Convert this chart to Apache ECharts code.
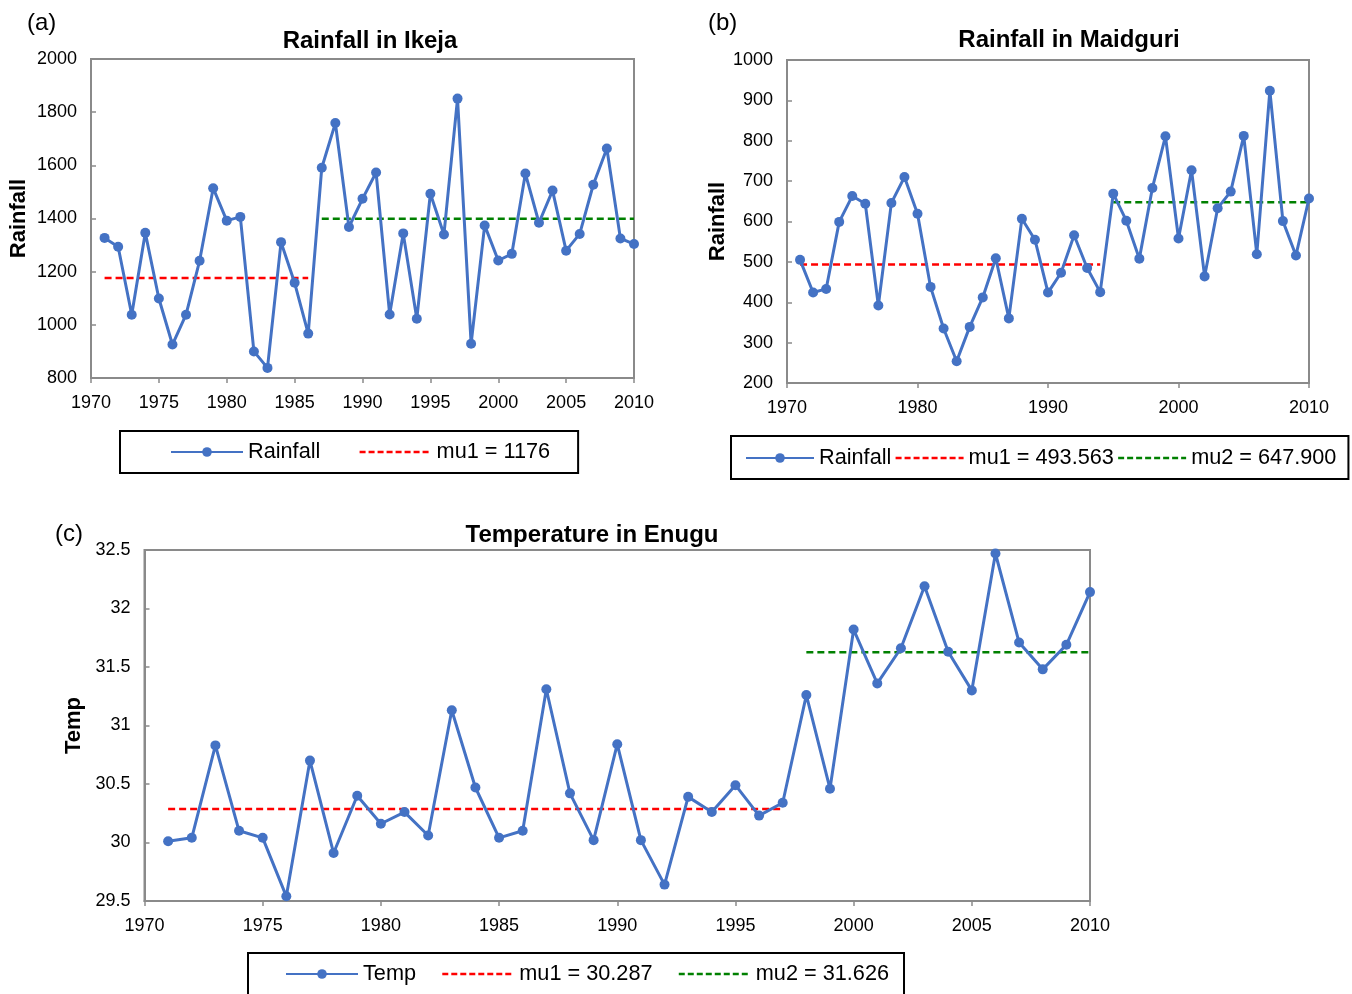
<!DOCTYPE html>
<html>
<head>
<meta charset="utf-8">
<script src="https://cdn.jsdelivr.net/npm/echarts@6/dist/echarts.min.js"></script>
<style>
  html, body { margin: 0; padding: 0; background: #ffffff; }
  #chart { width: 1352px; height: 994px; }
</style>
</head>
<body>
<div id="chart"></div>
<script>
// Observation years shared by all three panels
const years = [1971, 1972, 1973, 1974, 1975, 1976, 1977, 1978, 1979, 1980,
               1981, 1982, 1983, 1984, 1985, 1986, 1987, 1988, 1989, 1990,
               1991, 1992, 1993, 1994, 1995, 1996, 1997, 1998, 1999, 2000,
               2001, 2002, 2003, 2004, 2005, 2006, 2007, 2008, 2009, 2010];

// (a) Annual rainfall, Ikeja
const ikejaRain = [1327, 1294, 1038, 1346, 1099, 926, 1038, 1241, 1514, 1392,
                   1406, 900, 838, 1311, 1158, 967, 1591, 1759, 1368, 1474,
                   1573, 1039, 1344, 1023, 1493, 1340, 1851, 929, 1374, 1242,
                   1267, 1569, 1384, 1505, 1279, 1342, 1527, 1663, 1325, 1304];
const ikejaMu1 = 1176, ikejaMu1Span = [1971, 1986];
const ikejaMu2 = 1399, ikejaMu2Span = [1987, 2010];

// (b) Annual rainfall, Maidguri
const maidRain = [505, 424, 433, 599, 663, 644, 392, 646, 710, 619,
                  438, 335, 254, 339, 412, 509, 360, 607, 555, 424,
                  473, 566, 485, 425, 669, 602, 508, 683, 811, 558,
                  727, 464, 633, 674, 812, 519, 924, 601, 516, 657];
const maidMu1 = 493.563, maidMu1Span = [1971, 1994];
const maidMu2 = 647.900, maidMu2Span = [1995, 2010];

// (c) Mean temperature, Enugu
const enuguTemp = [30.01, 30.04, 30.83, 30.10, 30.04, 29.54, 30.70, 29.91, 30.40, 30.16,
                   30.26, 30.06, 31.13, 30.47, 30.04, 30.10, 31.31, 30.42, 30.02, 30.84,
                   30.02, 29.64, 30.39, 30.26, 30.49, 30.23, 30.34, 31.26, 30.46, 31.82,
                   31.36, 31.66, 32.19, 31.63, 31.30, 32.47, 31.71, 31.48, 31.69, 32.14];
const enuguMu1 = 30.287, enuguMu1Span = [1971, 1997];
const enuguMu2 = 31.626, enuguMu2Span = [1998, 2010];

const FONT = "'Liberation Sans', Arial, Helvetica, sans-serif";
const BLUE = '#4472C4';
const AXIS_GREY = '#8a8a8a';

const pairs = (xs, ys) => xs.map((x, i) => [x, ys[i]]);
const level = (span, v) => [[span[0], v], [span[1], v]];
const plain = v => String(v);

function dataSeries(name, idx, values) {
  return {
    name, type: 'line', xAxisIndex: idx, yAxisIndex: idx,
    data: pairs(years, values),
    symbol: 'circle', symbolSize: 10,
    lineStyle: { color: BLUE, width: 3 },
    itemStyle: { color: BLUE },
    z: 3
  };
}
function meanSeries(name, idx, span, v, color) {
  return {
    name, type: 'line', xAxisIndex: idx, yAxisIndex: idx,
    data: level(span, v), symbol: 'none',
    lineStyle: { color, width: 2.5, type: [7, 4] },
    itemStyle: { color },
    z: 2
  };
}
function xAxisFor(idx, interval) {
  return {
    gridIndex: idx, type: 'value', min: 1970, max: 2010, interval,
    axisLine: { show: true, lineStyle: { color: AXIS_GREY, width: 2 } },
    axisTick: { show: true, length: 5, lineStyle: { color: AXIS_GREY, width: 1.5 } },
    axisLabel: { fontSize: 18, color: '#000', margin: 16, fontFamily: FONT, formatter: plain },
    splitLine: { show: false }
  };
}
function yAxisFor(idx, min, max, interval, name, gap) {
  return {
    gridIndex: idx, type: 'value', min, max, interval,
    name, nameLocation: 'middle', nameGap: gap,
    nameTextStyle: { fontSize: 22, fontWeight: 'bold', color: '#000', fontFamily: FONT },
    axisLine: { show: true, lineStyle: { color: AXIS_GREY, width: 2 } },
    axisTick: { show: true, inside: true, length: 5, lineStyle: { color: AXIS_GREY, width: 1.5 } },
    axisLabel: { fontSize: 18, color: '#000', margin: 14, fontFamily: FONT, formatter: plain },
    splitLine: { show: false }
  };
}
// Dashed-level entries show only the dashed stroke, no marker
const lineOnly = name => ({ name, itemStyle: { opacity: 0 }, lineStyle: { width: 2.5, type: [6, 3] } });
function legendBox(left, top, names, gap, padding, itemWidth) {
  return {
    left, top, orient: 'horizontal', data: names,
    itemWidth, itemHeight: 12, itemGap: gap, padding,
    borderColor: '#000', borderWidth: 2,
    selectedMode: false,
    textStyle: { fontSize: 21.7, color: '#000', fontFamily: FONT }
  };
}
function heading(text, x, top, size, bold) {
  return {
    text, left: x, top, textAlign: bold ? 'center' : 'left', padding: 0,
    textStyle: { fontSize: size, fontWeight: bold ? 'bold' : 'normal', color: '#000', fontFamily: FONT }
  };
}

const chart = echarts.init(document.getElementById('chart'), null, { renderer: 'canvas' });
chart.setOption({
  animation: false,
  backgroundColor: '#ffffff',
  textStyle: { fontFamily: FONT },
  title: [
    heading('(a)', 27, 11, 24, false),
    heading('Rainfall in Ikeja', 370, 29, 24, true),
    heading('(b)', 708, 11, 24, false),
    heading('Rainfall in Maidguri', 1069, 28, 24, true),
    heading('(c)', 55, 522, 24, false),
    heading('Temperature in Enugu', 592, 523, 24, true)
  ],
  grid: [
    { left: 91, top: 59, width: 543, height: 319, show: true, borderColor: AXIS_GREY, borderWidth: 2 },
    { left: 787, top: 60, width: 522, height: 323, show: true, borderColor: AXIS_GREY, borderWidth: 2 },
    { left: 144.5, top: 550, width: 945.5, height: 351, show: true, borderColor: AXIS_GREY, borderWidth: 2 }
  ],
  xAxis: [xAxisFor(0, 5), xAxisFor(1, 10), xAxisFor(2, 5)],
  yAxis: [
    yAxisFor(0, 800, 2000, 200, 'Rainfall', 61),
    yAxisFor(1, 200, 1000, 100, 'Rainfall', 57),
    yAxisFor(2, 29.5, 32.5, 0.5, 'Temp', 60)
  ],
  legend: [
    legendBox(120, 431, ['Rainfall', lineOnly('mu1 = 1176')], 38, [10, 28, 10, 50], 72),
    legendBox(731, 436, ['Rainfall', lineOnly('mu1 = 493.563'), lineOnly('mu2 = 647.900')], 3, [11, 12, 10, 14], 68),
    legendBox(248, 953, ['Temp', lineOnly('mu1 = 30.287'), lineOnly('mu2 = 31.626')], 25, [10, 15, 10, 37], 72)
  ],
  series: [
    meanSeries('mu1 = 1176', 0, ikejaMu1Span, ikejaMu1, '#ff0000'),
    meanSeries('mu2 (Ikeja)', 0, ikejaMu2Span, ikejaMu2, '#008000'),
    dataSeries('Rainfall', 0, ikejaRain),
    meanSeries('mu1 = 493.563', 1, maidMu1Span, maidMu1, '#ff0000'),
    meanSeries('mu2 = 647.900', 1, maidMu2Span, maidMu2, '#008000'),
    dataSeries('Rainfall', 1, maidRain),
    meanSeries('mu1 = 30.287', 2, enuguMu1Span, enuguMu1, '#ff0000'),
    meanSeries('mu2 = 31.626', 2, enuguMu2Span, enuguMu2, '#008000'),
    dataSeries('Temp', 2, enuguTemp)
  ]
});
</script>
</body>
</html>
